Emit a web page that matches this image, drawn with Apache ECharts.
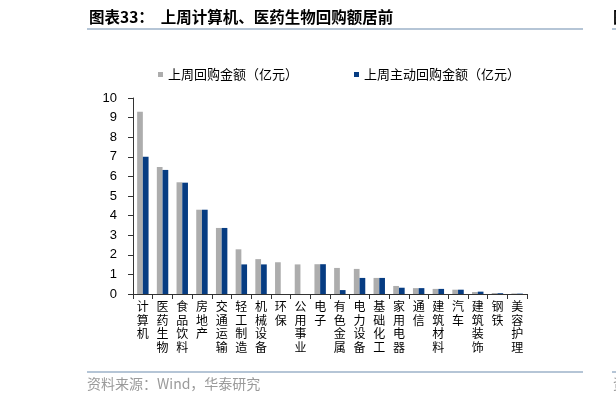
<!DOCTYPE html>
<html><head><meta charset="utf-8">
<script src="https://cdn.jsdelivr.net/npm/echarts@6/dist/echarts.min.js"></script>
<style>html,body{margin:0;padding:0;background:#fff}#c{width:616px;height:403px}</style>
</head><body><div id="c"></div>
<script>
var categories = ['计算机','医药生物','食品饮料','房地产','交通运输','轻工制造','机械设备','环保','公用事业','电子','有色金属','电力设备','基础化工','家用电器','通信','建筑材料','汽车','建筑装饰','钢铁','美容护理'];
var totalRepurchase = [9.3,6.48,5.7,4.3,3.37,2.28,1.78,1.62,1.51,1.52,1.33,1.28,0.82,0.41,0.3,0.26,0.22,0.1,0.05,0.03];
var activeRepurchase = [7.0,6.33,5.68,4.3,3.37,1.51,1.51,0,0,1.52,0.2,0.82,0.82,0.32,0.3,0.26,0.22,0.12,0.04,0.02];
var seriesNames = ['上周回购金额（亿元）','上周主动回购金额（亿元）'];
var titleText = '图表33：  上周计算机、医药生物回购额居前';
var sourceText = '资料来源：Wind，华泰研究';

var cjk = '"Noto Sans CJK SC", sans-serif';
var chart = echarts.init(document.getElementById('c'));
chart.setOption({
  animation: false,
  backgroundColor: '#fff',
  title: [
    {text:titleText, left:89, top:9, padding:0, textStyle:{fontSize:15.5, fontWeight:'bold', fontFamily:cjk, color:'#000'}},
    {text:'图', left:613, top:9, padding:0, textStyle:{fontSize:15.5, fontWeight:'bold', fontFamily:cjk, color:'#000'}},
    {text:sourceText, left:87, top:377, padding:0, textStyle:{fontSize:14, fontWeight:'normal', fontFamily:cjk, color:'#9a9a9a'}},
    {text:'资', left:613, top:377, padding:0, textStyle:{fontSize:14, fontWeight:'normal', fontFamily:cjk, color:'#9a9a9a'}}
  ],
  graphic: [
    {type:'line', shape:{x1:87,y1:29,x2:583,y2:29}, style:{stroke:'#9db2c8', lineWidth:1.5}},
    {type:'line', shape:{x1:612,y1:29,x2:620,y2:29}, style:{stroke:'#9db2c8', lineWidth:1.5}},
    {type:'line', shape:{x1:87,y1:372,x2:583,y2:372}, style:{stroke:'#9db2c8', lineWidth:1.5}},
    {type:'line', shape:{x1:612,y1:372,x2:620,y2:372}, style:{stroke:'#9db2c8', lineWidth:1.5}}
  ],
  legend: [
    {data:[seriesNames[0]], left:153, top:63, icon:'rect', itemWidth:5, itemHeight:5, itemGap:0,
     textStyle:{fontFamily:cjk, fontSize:13, color:'#000'}},
    {data:[seriesNames[1]], left:349, top:63, icon:'rect', itemWidth:5, itemHeight:5, itemGap:0,
     textStyle:{fontFamily:cjk, fontSize:13, color:'#000'}}
  ],
  grid: {left:133, right:89, top:98, bottom:109, containLabel:false},
  xAxis: {
    type:'category', data:categories,
    axisLine:{lineStyle:{color:'#333', width:1}},
    axisTick:{show:true, alignWithLabel:false, length:5, lineStyle:{color:'#333'}},
    axisLabel:{interval:0, margin:6, fontFamily:cjk, fontSize:12, color:'#000', lineHeight:13.5,
      verticalAlign:'top',
      formatter:function(v){return v.split('').join('\n');}}
  },
  yAxis: {
    type:'value', min:0, max:10, interval:1,
    splitLine:{show:false},
    axisLine:{show:true, lineStyle:{color:'#333'}},
    axisTick:{show:true, length:5, lineStyle:{color:'#333'}},
    axisLabel:{margin:16, fontFamily:'Arial, "Liberation Sans", sans-serif', fontSize:13, color:'#000'}
  },
  series: [
    {name:seriesNames[0], type:'bar', data:totalRepurchase, itemStyle:{color:'#adadad'}, barGap:'0%', barCategoryGap:'42%'},
    {name:seriesNames[1], type:'bar', data:activeRepurchase, itemStyle:{color:'#063c82'}, barGap:'0%', barCategoryGap:'42%'}
  ]
});
</script></body></html>
